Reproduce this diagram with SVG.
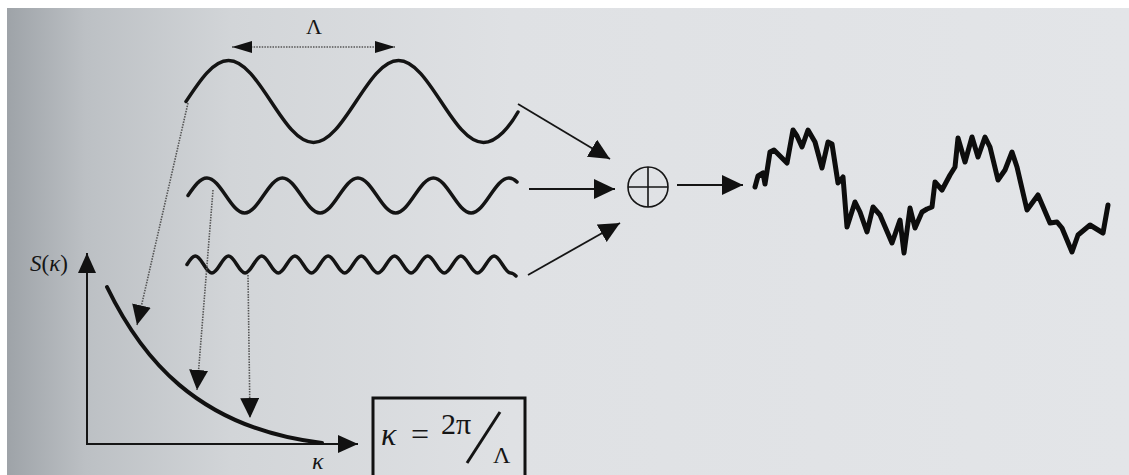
<svg xmlns="http://www.w3.org/2000/svg" width="1129" height="475" viewBox="0 0 1129 475">
  <defs>
    <linearGradient id="paper" x1="0" y1="0" x2="1" y2="0">
      <stop offset="0" stop-color="#9ea3a8"/>
      <stop offset="0.07" stop-color="#bcc0c4"/>
      <stop offset="0.2" stop-color="#d2d5d8"/>
      <stop offset="0.45" stop-color="#dfe1e4"/>
      <stop offset="1" stop-color="#e3e5e8"/>
    </linearGradient>
    <marker id="arrDot" markerUnits="userSpaceOnUse" markerWidth="20" markerHeight="19" viewBox="0 0 20 19" refX="20" refY="9.5" orient="auto">
      <path d="M0,0 L20,9.5 L0,19 Z" fill="#111"/>
    </marker>
    <marker id="arrSolid" markerUnits="userSpaceOnUse" markerWidth="21" markerHeight="20" viewBox="0 0 21 20" refX="21" refY="10" orient="auto">
      <path d="M0,0 L21,10 L0,20 Z" fill="#111"/>
    </marker>
    <marker id="arrAxis" markerUnits="userSpaceOnUse" markerWidth="20" markerHeight="18" viewBox="0 0 20 18" refX="20" refY="9" orient="auto">
      <path d="M0,0 L20,9 L0,18 Z" fill="#111"/>
    </marker>
    <marker id="arrDim" markerUnits="userSpaceOnUse" markerWidth="20" markerHeight="12" viewBox="0 0 20 12" refX="20" refY="6" orient="auto-start-reverse">
      <path d="M0,0 L20,6 L0,12 Z" fill="#111"/>
    </marker>
  </defs>
  <style>
    .wave { fill: none; stroke: #141414; stroke-width: 3.5; stroke-linecap: round; stroke-linejoin: round; }
    .dotted { fill: none; stroke: #555; stroke-width: 1.6; stroke-dasharray: 1.5 1.2; }
    .solid { fill: none; stroke: #151515; stroke-width: 1.8; }
    .axis { fill: none; stroke: #151515; stroke-width: 2; }
    .serif { font-family: "Liberation Serif", "Times New Roman", serif; fill: #151515; }
    .ital { font-style: italic; }
  </style>

  <rect x="0" y="0" width="1129" height="475" fill="#ffffff"/>
  <rect x="7" y="8" width="1122" height="467" fill="url(#paper)"/>

  <g id="wave-large">
    <path class="wave" d="M186,101.5 C199.9,80.5 213.1,60.5 228.5,60.5 C259.5,60.5 282.5,142.5 313.5,142.5 S367.5,60.5 398.5,60.5 S452.5,142.5 483.5,142.5 C497,142.5 510,126 518,112"/>
    <text class="serif" x="314" y="34" font-size="22" text-anchor="middle">Λ</text>
  </g>

  <g id="wave-medium">
    <path class="wave" d="M188,195.5 C194.2,186.5 200,178 206.9,178 C220.6,178 230.9,213 244.6,213 S268.6,178 282.4,178 S306.4,213 320.1,213 S344.1,178 357.9,178 S381.9,213 395.6,213 S419.6,178 433.4,178 S457.4,213 471.1,213 S495.1,178 508.9,178 C512,178 515,180 517,182"/>
  </g>

  <g id="wave-small">
    <path class="wave" d="M187,264.5 C189.7,260.1 192.3,256 195.3,256 C201.35,256 205.85,273 211.9,273 S222.45,256 228.5,256 S239.05,273 245.1,273 S255.65,256 261.7,256 S272.25,273 278.3,273 S288.85,256 294.9,256 S305.45,273 311.5,273 S322.05,256 328.1,256 S338.65,273 344.7,273 S355.25,256 361.3,256 S371.85,273 377.9,273 S388.45,256 394.5,256 S405.05,273 411.1,273 S421.65,256 427.7,256 S438.25,273 444.3,273 S454.85,256 460.9,256 S471.45,273 477.5,273 S488.05,256 494.1,256 S504.65,273 510.7,273 C512.5,273 514,274 516,276"/>
  </g>

  <g id="spectrum-plot">
    <line class="axis" x1="87" y1="444" x2="87" y2="253" marker-end="url(#arrAxis)"/>
    <line class="axis" x1="86" y1="444" x2="358" y2="444" marker-end="url(#arrAxis)"/>
    <path d="M107,287 C140,355 195,428 322,443" fill="none" stroke="#111" stroke-width="4" stroke-linecap="round"/>
    <text class="serif" x="30" y="271" font-size="23"><tspan class="ital">S</tspan>(<tspan class="ital">κ</tspan>)</text>
    <text class="serif ital" x="312" y="469" font-size="24">κ</text>
  </g>

  <g id="formula">
    <rect x="373" y="398" width="152" height="90" fill="none" stroke="#111" stroke-width="3"/>
    <text class="serif ital" x="381" y="445" font-size="32">κ</text>
    <text class="serif" x="411" y="445" font-size="32">=</text>
    <text class="serif" x="441" y="434" font-size="30">2π</text>
    <line x1="467" y1="463" x2="500" y2="412" stroke="#151515" stroke-width="3"/>
    <text class="serif" x="493" y="463" font-size="24">Λ</text>
  </g>

  <g id="sum-node">
    <circle cx="648" cy="187" r="20" fill="none" stroke="#151515" stroke-width="1.6"/>
    <line x1="628" y1="187" x2="668" y2="187" stroke="#151515" stroke-width="1.6"/>
    <line x1="648" y1="167" x2="648" y2="207" stroke="#151515" stroke-width="1.6"/>
  </g>

  <g id="result-signal">
    <polyline fill="none" stroke="#0d0d0d" stroke-width="5" stroke-linejoin="round" stroke-linecap="round" points="755,187 758,176 763,173 765,184 770,152 774,150 787,163 793,130 797,136 802,147 808,130 815,142 822,168 828,142 832,144 838,183 843,177 847,227 855,202 860,212 867,232 873,207 880,215 892,243 900,220 904,253 910,208 915,228 922,212 927,209 932,207 935,182 942,190 950,175 955,167 958,138 965,162 972,137 978,157 985,137 990,147 998,180 1005,170 1012,152 1017,167 1027,210 1038,195 1050,223 1057,222 1062,228 1072,252 1078,235 1090,225 1103,233 1108,205"/>
  </g>

  <g id="connectors">
    <line class="dotted" x1="232" y1="47" x2="395" y2="47" marker-start="url(#arrDim)" marker-end="url(#arrDim)"/>
    <line class="dotted" x1="188" y1="103" x2="137" y2="325" marker-end="url(#arrDot)"/>
    <line class="dotted" x1="213" y1="190" x2="197" y2="390" marker-end="url(#arrDot)"/>
    <line class="dotted" x1="248" y1="275" x2="250" y2="418" marker-end="url(#arrDot)"/>
    <line class="solid" x1="518" y1="104" x2="610" y2="159" marker-end="url(#arrSolid)"/>
    <line class="solid" x1="529" y1="189" x2="615" y2="189" marker-end="url(#arrSolid)"/>
    <line class="solid" x1="528" y1="275" x2="620" y2="223" marker-end="url(#arrSolid)"/>
    <line class="solid" x1="677" y1="185" x2="743" y2="185" marker-end="url(#arrSolid)"/>
  </g>
</svg>
